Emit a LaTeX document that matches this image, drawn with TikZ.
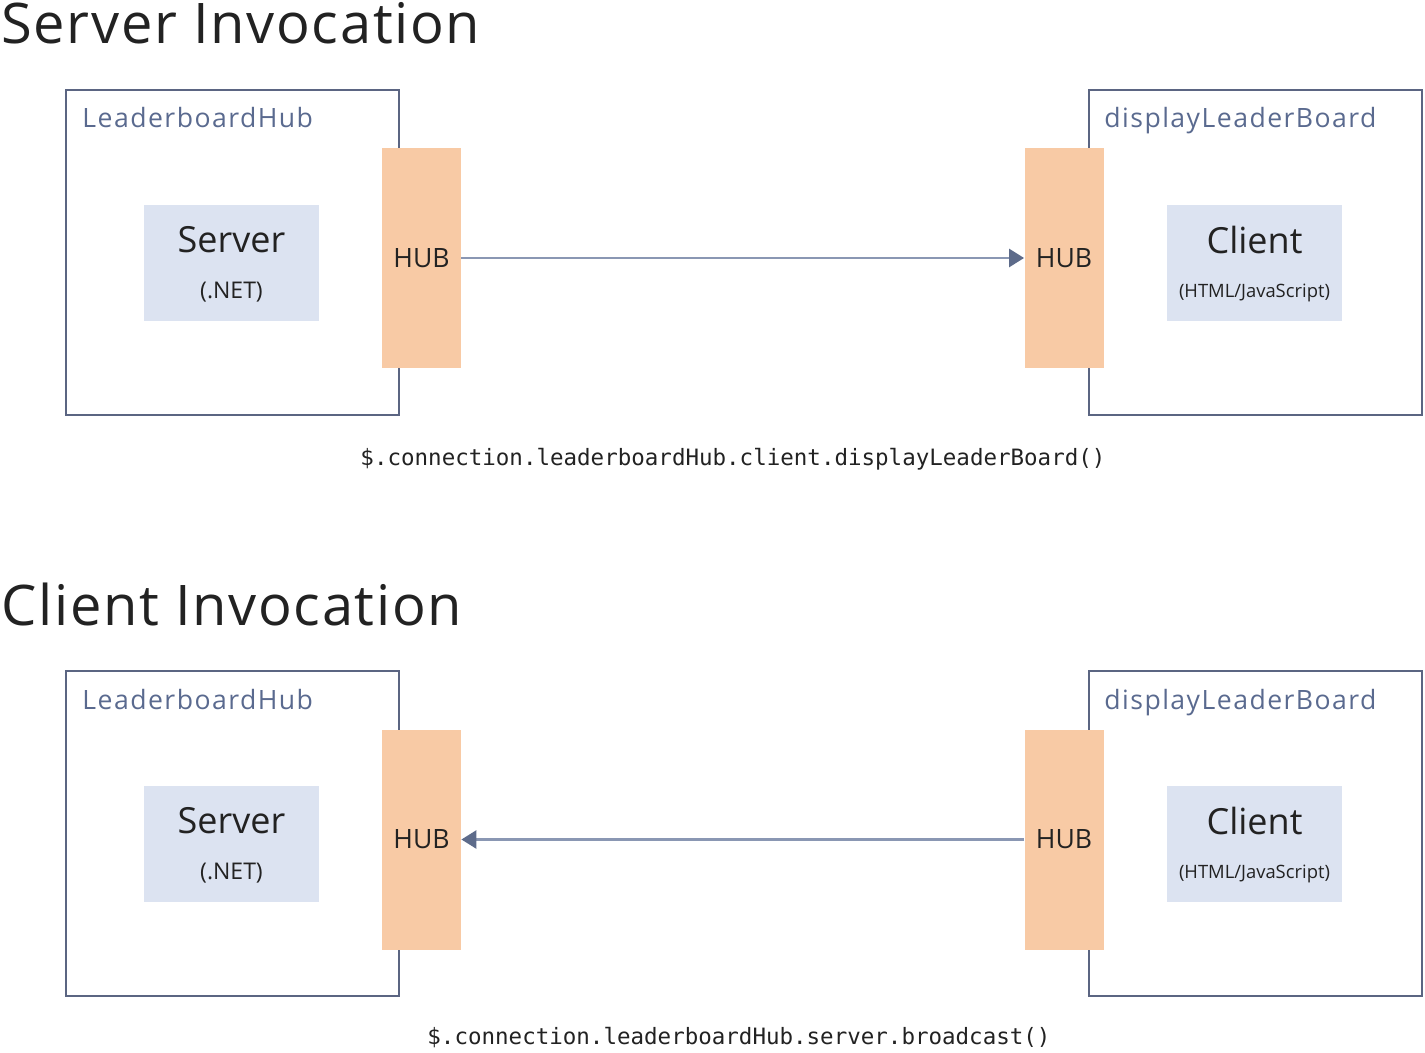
\documentclass[tikz,border=0pt]{standalone}
\usepackage{fontspec}
\setmainfont{Open Sans}
\newfontfamily\codefont{DejaVu Sans Mono}
\usetikzlibrary{arrows.meta}
\definecolor{boxline}{HTML}{5B6582}
\definecolor{labelcol}{HTML}{5A6A8F}
\definecolor{innerfill}{HTML}{DCE3F1}
\definecolor{hubfill}{HTML}{F8CAA5}
\definecolor{arrline}{HTML}{8A97B3}
\definecolor{arrhead}{HTML}{5D6B8A}
\definecolor{txt}{HTML}{222222}
\tikzset{
  outerbox/.style={draw=boxline, line width=1pt, minimum width=166.5pt, minimum height=162.5pt, inner sep=0pt},
  innerbox/.style={fill=innerfill, minimum width=87.5pt, minimum height=58pt, inner sep=0pt},
  hubbox/.style={fill=hubfill, minimum width=39.5pt, minimum height=110pt, inner sep=0pt, font=\fontsize{13.3}{15}\selectfont, text=txt},
  boxlabel/.style={anchor=base west, inner sep=0pt, text=labelcol, font=\fontsize{13.3}{15}\selectfont\addfontfeature{LetterSpace=5.5}},
  title/.style={anchor=base west, inner sep=0pt, text=txt, font=\fontsize{28}{30}\selectfont\addfontfeature{LetterSpace=3}},
  bigtext/.style={inner sep=0pt, text=txt, font=\fontsize{18}{22}\selectfont},
  smalltext/.style={inner sep=0pt, text=txt, font=\fontsize{11.5}{13}\selectfont},
  tinytext/.style={inner sep=0pt, text=txt, font=\fontsize{9.2}{11}\selectfont},
  code/.style={inner sep=0pt, text=txt, font=\codefont\fontsize{11.25}{13}\selectfont},
  arr/.style={draw=arrline, line width=1.3pt, -{Triangle[length=7.5pt,width=9pt,color=arrhead]}},
}
\begin{document}
\begin{tikzpicture}[x=0.5pt,y=-0.5pt]
\useasboundingbox (0,0) rectangle (1425,1053);
% ---------- Server Invocation ----------
\node[title] (t1) at (1,44) {Server Invocation};
\node[outerbox] (oL1) at (232.5,252.5) {};
\node[outerbox] (oR1) at (1255.5,252.5) {};
\node[boxlabel] (lL1) at (82,128) {LeaderboardHub};
\node[boxlabel] (lR1) at (1104,128) {displayLeaderBoard};
\node[innerbox] (s1) at (231.5,263) {};
\node[bigtext] (s1a) at (231.5,240) {Server};
\node[smalltext] (s1b) at (231.5,292) {(.NET)};
\node[innerbox] (c1) at (1254.5,263) {};
\node[bigtext] (c1a) at (1254.5,240) {Client};
\node[tinytext] (c1b) at (1254.5,293) {(HTML/JavaScript)};
\node[hubbox] (hL1) at (421.5,258) {HUB};
\node[hubbox] (hR1) at (1064,258) {HUB};
\draw[arr] (hL1.east) -- (hR1.west);
\node[code] (k1) at (733,459) {\$.connection.leaderboardHub.client.displayLeaderBoard()};
% ---------- Client Invocation ----------
\node[title] (t2) at (1,625) {Client Invocation};
\node[outerbox] (oL2) at (232.5,833.5) {};
\node[outerbox] (oR2) at (1255.5,833.5) {};
\node[boxlabel] (lL2) at (82,709) {LeaderboardHub};
\node[boxlabel] (lR2) at (1104,709) {displayLeaderBoard};
\node[innerbox] (s2) at (231.5,844) {};
\node[bigtext] (s2a) at (231.5,821) {Server};
\node[smalltext] (s2b) at (231.5,873) {(.NET)};
\node[innerbox] (c2) at (1254.5,844) {};
\node[bigtext] (c2a) at (1254.5,821) {Client};
\node[tinytext] (c2b) at (1254.5,874) {(HTML/JavaScript)};
\node[hubbox] (hL2) at (421.5,839.5) {HUB};
\node[hubbox] (hR2) at (1064,839.5) {HUB};
\draw[arr] (hR2.west) -- (hL2.east);
\node[code] (k2) at (739,1038) {\$.connection.leaderboardHub.server.broadcast()};
\end{tikzpicture}
\end{document}
